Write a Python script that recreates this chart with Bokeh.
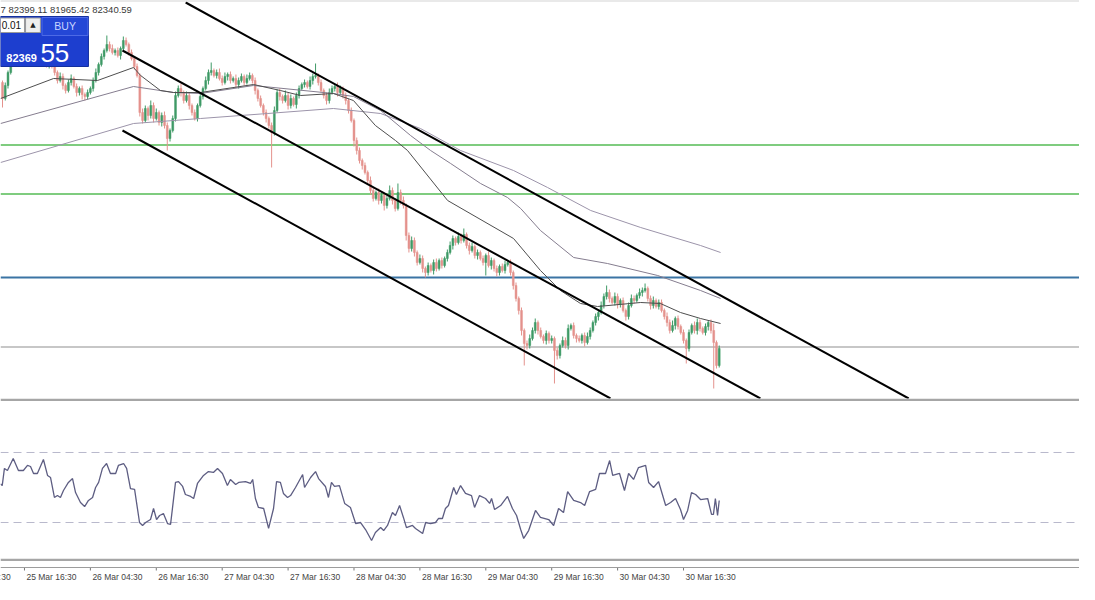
from bokeh.plotting import figure
from bokeh.layouts import column
from bokeh.models import Range1d, ColumnDataSource, Span
from bokeh.embed import file_html
from bokeh.resources import INLINE
from bokeh.core.properties import value

# ---------------- data (M30 bars, bar 0 = 25 Mar 12:30) ----------------
first_open = 87660
closes = [
    87340, 87600, 87860, 88100, 88200, 88140, 88300, 88340, 88260, 88360,
    88200, 88300, 88160, 88060, 88140, 88100, 88020, 88140, 87980, 87860,
    87700, 87780, 87600, 87500, 87660, 87740, 87580, 87460, 87540, 87420,
    87380, 87460, 87540, 87700, 87860, 88020, 88180, 88300, 88420, 88340,
    88260, 88300, 88200, 88340, 88500, 88420, 88260, 88140, 87980, 87800,
    87060, 86900, 87140, 87000, 87200, 86940, 87060, 86860, 87000, 86800,
    86540, 86700, 86940, 87400, 87540, 87460, 87300, 87400, 87200, 87060,
    86940, 87200, 87380, 87540, 87700, 87860, 87900, 87800, 87860, 87740,
    87660, 87780, 87820, 87700, 87740, 87620, 87700, 87780, 87660, 87740,
    87800, 87700, 87500, 87340, 87200, 87060, 86940, 86800, 86660, 87100,
    87460, 87380, 87300, 87400, 87200, 87340, 87220, 87400, 87540, 87620,
    87660, 87580, 87700, 87780, 87800, 87660, 87500, 87400, 87300, 87460,
    87540, 87580, 87460, 87540, 87400, 87300, 87100, 86900, 86500, 86300,
    86100, 86000, 85860, 85700, 85500, 85340, 85460, 85300, 85400, 85200,
    85340, 85500, 85300, 85140, 85460, 85300, 85200, 84600, 84340, 84500,
    84260, 84060, 84140, 83940, 83860, 84000, 83900, 84060, 83940, 84100,
    84000, 84140, 84260, 84400, 84540, 84460, 84580, 84500, 84620, 84400,
    84300, 84380, 84200, 84260, 84140, 84060, 84200, 84000, 84100, 83940,
    83860, 83980, 83900, 84020, 84060, 83860, 83600, 83340, 83100, 82700,
    82440, 82400, 82540, 82700, 82860, 82700, 82580, 82500, 82640, 82500,
    82540, 82300, 82200, 82400, 82500, 82400, 82740, 82800, 82600, 82540,
    82500, 82600, 82460, 82580, 82700, 82860, 82980, 83060, 83200, 83380,
    83460, 83340, 83260, 83380, 83220, 83300, 83100, 82980, 83200, 83340,
    83300, 83400, 83460, 83500, 83540, 83340, 83200, 83300, 83180, 83260,
    83100, 82980, 82860, 82700, 82800, 82940, 82780, 82660, 82500, 82340,
    82660, 82800, 82700, 82860, 82740, 82660, 82780, 82860, 82700, 82460,
    82000, 82340,
]
upper_wick = [
    40, 60, 40, 80, 40, 60, 40, 80, 60, 40,
    60, 40, 80, 40, 60, 40, 60, 40, 80, 60,
    40, 80, 60, 40, 60, 80, 40, 60, 40, 60,
    40, 60, 40, 60, 80, 40, 60, 40, 180, 60,
    80, 40, 60, 40, 80, 60, 40, 60, 40, 60,
    40, 80, 60, 40, 100, 60, 80, 40, 60, 80,
    60, 40, 60, 80, 60, 100, 40, 80, 60, 40,
    60, 40, 60, 40, 80, 60, 160, 40, 60, 80,
    60, 80, 40, 60, 40, 80, 60, 60, 40, 80,
    60, 40, 60, 40, 60, 40, 60, 40, 60, 80,
    60, 80, 40, 100, 60, 80, 40, 60, 60, 40,
    60, 40, 80, 60, 240, 40, 60, 40, 60, 80,
    60, 40, 80, 60, 40, 60, 40, 60, 40, 60,
    60, 40, 60, 40, 80, 60, 40, 80, 60, 40,
    80, 100, 60, 40, 180, 60, 80, 40, 60, 80,
    60, 40, 80, 60, 40, 60, 40, 60, 80, 40,
    60, 40, 60, 80, 60, 40, 80, 60, 120, 40,
    60, 80, 40, 60, 40, 60, 40, 80, 60, 40,
    60, 40, 60, 80, 40, 60, 40, 60, 40, 60,
    40, 60, 80, 60, 80, 40, 60, 40, 60, 40,
    60, 40, 60, 40, 80, 60, 80, 40, 60, 40,
    60, 40, 60, 80, 60, 40, 60, 40, 80, 60,
    140, 60, 40, 80, 60, 40, 60, 40, 60, 80,
    60, 40, 80, 60, 100, 40, 60, 80, 40, 60,
    60, 40, 80, 60, 100, 40, 60, 40, 60, 40,
    60, 40, 80, 80, 60, 40, 60, 40, 60, 140,
    40, 60,
]
lower_wick = [
    180, 40, 60, 40, 60, 80, 40, 60, 40, 60,
    40, 60, 40, 80, 60, 40, 60, 80, 40, 60,
    60, 40, 80, 60, 40, 60, 40, 80, 60, 100,
    80, 60, 40, 60, 40, 60, 40, 60, 40, 60,
    40, 60, 40, 80, 60, 40, 60, 40, 60, 40,
    80, 60, 40, 100, 60, 80, 40, 60, 80, 60,
    240, 60, 40, 60, 40, 80, 60, 40, 80, 60,
    40, 60, 40, 60, 40, 80, 60, 40, 60, 40,
    60, 40, 80, 60, 40, 60, 80, 40, 60, 40,
    40, 60, 80, 60, 40, 60, 80, 60, 700, 60,
    40, 80, 60, 40, 80, 60, 40, 80, 60, 40,
    60, 40, 60, 80, 40, 60, 40, 60, 80, 60,
    40, 60, 80, 40, 60, 80, 60, 40, 120, 80,
    60, 80, 40, 60, 80, 60, 40, 80, 60, 100,
    60, 40, 80, 60, 40, 80, 60, 100, 80, 60,
    80, 60, 40, 80, 100, 60, 40, 80, 60, 40,
    60, 40, 60, 40, 80, 60, 40, 60, 40, 60,
    80, 40, 60, 80, 40, 60, 260, 40, 80, 60,
    80, 60, 40, 60, 40, 60, 80, 60, 80, 100,
    440, 80, 60, 40, 60, 80, 40, 60, 80, 60,
    60, 660, 80, 60, 40, 60, 80, 40, 60, 80,
    40, 60, 80, 40, 60, 40, 60, 80, 40, 60,
    60, 80, 40, 60, 80, 60, 40, 80, 60, 40,
    60, 40, 60, 80, 40, 60, 80, 60, 40, 60,
    40, 60, 80, 60, 40, 80, 60, 40, 60, 300,
    60, 40, 60, 80, 60, 40, 60, 80, 60, 920,
    60, 40,
]

# moving averages (bar, price)
ma_fast_x = [-0.7, 18.6, 34.6, 47.7, 50.3, 57.5, 62.3, 72.1, 91.4, 101.2, 108.5, 120.5, 127.8,
             135.8, 143.1, 147.5, 162.1, 186.1, 195.9, 203.2, 210.5, 216.7, 232.4, 239.6,
             246.9, 254.2, 261.5]
ma_fast_y = [87340, 87740, 87700, 87960, 87800, 87500, 87460, 87460, 87620, 87500, 87400, 87440,
             87300, 86800, 86500, 86300, 85300, 84540, 83900, 83500, 83240, 83180, 83260, 83240,
             83060, 82940, 82840]
ma_mid_x = [-0.7, 47.7, 62.3, 72.1, 91.4, 120.5, 127.8, 137.7, 148.6, 155.9, 163.2, 174.1, 183.9,
            188.7, 195.9, 208.0, 220.3, 238.6, 254.2, 261.5]
ma_mid_y = [86840, 87580, 87460, 87440, 87600, 87440, 87380, 87100, 86600, 86300, 86040, 85640,
            85360, 85140, 84700, 84160, 84040, 83800, 83500, 83340]
ma_slow_x = [-0.7, 47.7, 72.1, 96.5, 120.5, 137.7, 152.2, 166.8, 186.1, 198.5, 214.2, 232.4,
             254.2, 261.5]
ma_slow_y = [86060, 86840, 86940, 87040, 87140, 87040, 86740, 86300, 85900, 85560, 85100, 84760,
             84400, 84260]

# trend channel (bar, price) end points
channel_x = [[66.7, 330.0], [43.7, 276.0], [43.7, 221.4]]
channel_y = [[89260, 81340], [88300, 81340], [86700, 81340]]

# horizontal levels
green_levels = [86410, 85430]
blue_level = 83760
bid_price = 82369

# RSI (bar, value)
rsi_x = [-0.7, -0.1, 0.7, 1.8, 3.9, 5.8, 7.6, 9.1, 10.2, 11.3, 12.7, 14.9, 16.4, 17.5, 18.9, 20.0,
         21.1, 22.2, 24.0, 25.5, 26.6, 28.4, 29.9, 31.3, 32.8, 33.9, 35.0, 36.4, 37.9, 39.3, 41.2,
         42.2, 44.1, 45.2, 46.6, 48.1, 49.9, 51.0, 52.1, 53.9, 55.0, 56.1, 57.2, 58.6, 60.1, 61.2,
         63.0, 64.1, 65.6, 66.6, 68.5, 69.6, 71.0, 73.2, 75.0, 76.8, 78.3, 80.1, 81.9, 83.0, 84.9,
         86.0, 88.5, 90.3, 91.1, 92.1, 93.2, 95.1, 96.9, 98.7, 99.8, 101.2, 102.3, 103.8, 104.9,
         106.7, 109.3, 110.0, 112.2, 114.0, 115.1, 117.6, 118.7, 119.8, 120.9, 122.7, 124.6,
         126.7, 128.6, 130.4, 132.2, 134.4, 135.8, 137.7, 138.8, 140.2, 142.0, 143.1, 144.6,
         146.0, 147.1, 149.3, 150.4, 153.0, 154.1, 155.9, 157.7, 158.8, 160.2, 161.3, 162.4,
         164.3, 165.3, 166.8, 168.6, 170.8, 171.9, 173.7, 175.9, 177.4, 178.1, 179.2, 181.4,
         183.9, 185.7, 187.2, 188.7, 189.8, 191.6, 194.1, 195.9, 198.9, 200.7, 202.5, 204.3,
         205.8, 208.0, 210.5, 212.0, 213.8, 216.0, 217.4, 219.6, 221.1, 222.2, 224.7, 226.5,
         228.0, 229.8, 231.6, 234.2, 235.3, 237.1, 238.9, 241.5, 243.3, 245.1, 246.9, 248.0,
         249.5, 250.9, 252.4, 254.2, 256.8, 258.2, 258.9, 259.6, 260.4, 261.0]
rsi_v = [52.1, 51.1, 60.9, 59.7, 66.6, 59.7, 59.7, 62.6, 62.0, 58.0, 58.0, 66.0, 56.9, 55.7, 44.3,
         45.4, 44.3, 48.3, 52.9, 55.1, 47.1, 41.4, 39.1, 42.6, 44.3, 50.0, 52.9, 60.9, 63.7, 58.0,
         58.0, 62.6, 63.7, 60.9, 49.4, 48.9, 30.0, 28.3, 30.0, 31.7, 38.0, 31.7, 34.0, 35.1, 29.4,
         28.9, 52.9, 53.4, 50.6, 46.0, 44.9, 43.7, 52.3, 56.9, 59.1, 58.6, 60.9, 58.0, 51.1, 54.6,
         51.7, 52.9, 53.4, 52.3, 54.6, 43.7, 38.6, 38.0, 26.6, 38.0, 53.4, 52.9, 46.6, 44.3, 45.4,
         50.0, 57.4, 50.0, 55.7, 59.1, 55.1, 50.6, 44.3, 52.9, 50.6, 51.1, 40.9, 38.6, 29.4, 30.0,
         26.0, 19.7, 24.3, 27.1, 25.4, 28.3, 35.7, 34.0, 39.7, 32.9, 27.1, 28.3, 26.6, 23.7, 30.0,
         29.4, 30.0, 32.3, 32.3, 38.0, 39.7, 50.0, 46.0, 51.1, 46.6, 45.4, 38.6, 45.4, 43.7, 40.9,
         43.7, 37.4, 39.7, 44.9, 38.0, 34.0, 26.0, 20.9, 25.4, 36.9, 32.9, 31.7, 28.3, 38.0, 35.7,
         47.7, 42.6, 41.4, 39.7, 47.7, 48.9, 58.0, 58.0, 65.4, 56.9, 58.0, 48.3, 58.0, 54.6, 61.4,
         62.6, 52.9, 50.0, 53.4, 39.7, 41.4, 43.7, 37.4, 31.7, 36.9, 47.1, 46.0, 43.1, 43.7, 34.6,
         34.6, 43.7, 34.0, 42.6]
rsi_levels = [70, 30]

# time scale
tick_bars = [-16, 8, 32, 56, 80, 104, 128, 152, 176, 200, 224, 248]
time_labels = ["25 Mar 04:30", "25 Mar 16:30", "26 Mar 04:30", "26 Mar 16:30", "27 Mar 04:30",
               "27 Mar 16:30", "28 Mar 04:30", "28 Mar 16:30", "29 Mar 04:30", "29 Mar 16:30",
               "30 Mar 04:30", "30 Mar 16:30"]

ohlc_text = "7 82399.11 81965.42 82340.59"
lot_text = "0.01"
bid_big = "82369"
bid_small = "55"

# ---------------- build ----------------
W = 1079
BULL = "#3f9a66"
BEAR = "#e4928d"
xr = Range1d(-0.73, 392.2)

opens = [first_open] + closes[:-1]
tops = [max(o, c) for o, c in zip(opens, closes)]
bots = [min(o, c) for o, c in zip(opens, closes)]
src = ColumnDataSource(dict(
    x=list(range(len(closes))),
    top=tops, bot=bots,
    hi=[t + u for t, u in zip(tops, upper_wick)],
    lo=[b - l for b, l in zip(bots, lower_wick)],
    col=[BULL if c >= o else BEAR for o, c in zip(opens, closes)],
))

p = figure(width=W, height=401, x_range=xr, y_range=Range1d(81340, 89280),
           x_axis_type=None, y_axis_type=None, toolbar_location=None,
           output_backend="svg", min_border_left=0, min_border_right=0,
           min_border_top=1, min_border_bottom=3, border_fill_color="#a6a6a6",
           background_fill_color="#ffffff", outline_line_color=None)

for lvl in green_levels:
    p.add_layout(Span(location=lvl, dimension="width", line_color="#55bb55",
                      line_width=1.5, level="underlay"))
p.add_layout(Span(location=blue_level, dimension="width", line_color="#3b74a4",
                  line_width=2, level="underlay"))
p.add_layout(Span(location=bid_price, dimension="width", line_color="#b5b5b5",
                  line_width=1.5, level="underlay"))

p.segment(x0="x", y0="lo", x1="x", y1="hi", line_color="col", line_width=1, source=src)
p.vbar(x="x", width=0.68, top="top", bottom="bot", fill_color="col", line_color="col",
       line_width=0.5, source=src)

p.line(ma_slow_x, ma_slow_y, line_color="#9c94aa", line_width=1)
p.line(ma_mid_x, ma_mid_y, line_color="#857d8f", line_width=1)
p.line(ma_fast_x, ma_fast_y, line_color="#4e4e4e", line_width=1)

p.multi_line(xs=channel_x, ys=channel_y, line_color="#000000", line_width=2)

# one-click trading panel
p.quad(left=[-0.73], right=[31.3], top=[88980], bottom=[87980],
       fill_color="#1d3ecf", line_color="#14309f", line_width=1)
p.quad(left=[-0.73], right=[8.0], top=[88950], bottom=[88660],
       fill_color="#ffffff", line_color="#9a9a9a", line_width=1)
p.quad(left=[8.4], right=[13.8], top=[88950], bottom=[88660],
       fill_color="#eeeeee", line_color="#9a9a9a", line_width=1)
p.quad(left=[14.4], right=[31.1], top=[88960], bottom=[88600],
       fill_color="#2447d6", line_color="#4d6ae6", line_width=1)
p.text(x=[-0.3], y=[88805], text=[lot_text], text_baseline="middle",
       text_font=value("Liberation Sans"), text_font_size="10px", text_color="#111111")
p.text(x=[11.1], y=[88805], text=["\u25b2"], text_baseline="middle", text_align="center",
       text_font=value("DejaVu Sans"), text_font_size="7px", text_color="#222222")
p.text(x=[22.8], y=[88800], text=["BUY"], text_baseline="middle", text_align="center",
       text_font=value("Liberation Sans"), text_font_size="10.5px", text_color="#c9d5ff")
p.text(x=[1.4], y=[88160], text=[bid_big], text_baseline="middle",
       text_font=value("Liberation Sans"), text_font_size="11px", text_font_style="bold",
       text_color="#ffffff")
p.text(x=[13.8], y=[88260], text=[bid_small], text_baseline="middle",
       text_font=value("Liberation Sans"), text_font_size="26px", text_color="#ffffff")

p.text(x=[-0.73], y=[89130], text=[ohlc_text], text_baseline="middle",
       text_font=value("Liberation Sans"), text_font_size="9.5px", text_color="#3a3a3a")

# RSI window
r = figure(width=W, height=160, x_range=xr, y_range=Range1d(9.43, 99.14),
           x_axis_type=None, y_axis_type=None, toolbar_location=None,
           output_backend="svg", min_border_left=0, min_border_right=0,
           min_border_top=0, min_border_bottom=3, border_fill_color="#a6a6a6",
           background_fill_color="#ffffff", outline_line_color=None)
for lvl in rsi_levels:
    r.add_layout(Span(location=lvl, dimension="width", line_color="#b9b9cc",
                      line_width=1, line_dash="8 5", level="underlay"))
r.line(rsi_x, rsi_v, line_color="#5d5d82", line_width=1.3)

# time scale
a = figure(width=W, height=23, x_range=xr, y_range=Range1d(0, 23),
           x_axis_type=None, y_axis_type=None, toolbar_location=None,
           output_backend="svg", min_border=0, border_fill_color="#ffffff",
           background_fill_color="#ffffff", outline_line_color=None)
a.add_layout(Span(location=17, dimension="width", line_color="#9c9c9c", line_width=1))
a.segment(x0=tick_bars, y0=[17] * len(tick_bars), x1=tick_bars, y1=[14] * len(tick_bars),
          line_color="#777777", line_width=1)
a.text(x=tick_bars, y=[8] * len(tick_bars), text=time_labels, text_align="left",
       text_baseline="middle", x_offset=2, text_font=value("Liberation Sans"),
       text_font_size="8.5px", text_color="#444444")

layout = column(p, r, a, spacing=0)
open("out.html", "w").write(file_html(layout, INLINE))
